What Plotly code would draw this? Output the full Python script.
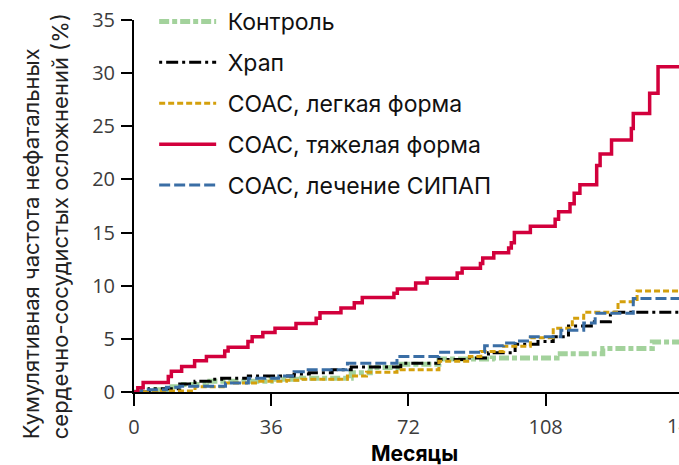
import plotly.graph_objects as go

# Cumulative incidence of non-fatal cardiovascular events (%), by follow-up month
control_t = [0, 4, 10, 13, 19, 36, 44, 57, 62, 70, 80, 94, 111, 123, 136, 144]
control_y = [0, 0.2, 0.5, 0.7, 1.0, 1.2, 1.3, 1.8, 2.3, 2.6, 3.1, 3.2, 3.6, 4.1, 4.7, 4.7]

snore_t = [0, 4, 12, 16, 20, 23, 30, 42, 46, 52, 57, 70, 80, 88, 93, 100, 106, 110, 114, 120, 125, 144]
snore_y = [0, 0.3, 0.75, 1.0, 1.2, 1.3, 1.5, 1.7, 1.8, 2.1, 2.35, 2.7, 3.05, 3.2, 3.7, 4.5, 4.75, 5.2, 6.2, 6.6, 7.5, 7.5]

mild_t = [0, 6, 16, 24, 33, 40, 44, 56, 61, 69, 80, 88, 91, 97, 104, 110, 115, 118, 127, 132, 144]
mild_y = [0, 0.1, 0.5, 0.85, 1.0, 1.1, 1.2, 1.5, 1.85, 2.1, 2.9, 3.35, 3.8, 4.3, 5.1, 6.0, 6.95, 7.5, 8.5, 9.5, 9.5]

severe_t = [0, 1.0, 2.4, 9.0, 9.8, 12.5, 15.9, 19.0, 23.8, 24.7, 29.9, 31.0, 33.8, 37.0, 42.5,
            47.8, 48.8, 54.3, 57.8, 59.9, 68.2, 69.1, 73.9, 76.9, 84.8, 86.1, 90.9, 91.5,
            94.4, 98.3, 99.0, 99.8, 104.0, 110.5, 111.4, 114.4, 115.5, 117.0, 121.4, 122.3,
            125.3, 130.5, 131.0, 135.3, 137.5, 144]
severe_y = [0, 0.4, 0.9, 1.45, 1.95, 2.4, 2.95, 3.35, 3.85, 4.2, 4.75, 5.2, 5.6, 6.0, 6.45,
            6.95, 7.45, 7.9, 8.4, 8.9, 9.3, 9.7, 10.25, 10.7, 11.2, 11.65, 12.1, 12.6,
            13.1, 13.55, 14.05, 15.0, 15.6, 16.25, 16.95, 17.7, 18.7, 19.5, 21.3, 22.4,
            23.7, 24.8, 26.2, 28.1, 30.6, 30.6]

cpap_t = [0, 2, 8.5, 12, 24, 30, 38, 42, 45, 56, 69, 80, 92, 97, 100, 104, 112, 118, 121, 131, 144]
cpap_y = [0, 0.2, 0.45, 0.55, 0.85, 1.3, 1.5, 1.9, 2.1, 2.7, 3.35, 3.75, 4.35, 4.6, 4.8, 5.2, 5.8, 6.5, 7.4, 8.8, 8.8]

x_ticks = [0, 36, 72, 108]
y_ticks = [0, 5, 10, 15, 20, 25, 30, 35]

series = [
    # name, t, y, color, width, dash, legend rank
    ("Контроль", control_t, control_y, "#a3d29c", 5, "10px,3px,5px,3px", 1),
    ("Храп", snore_t, snore_y, "#000000", 3, "3px,4px,12px,4px", 2),
    ("СОАС, легкая форма", mild_t, mild_y, "#d4a00c", 3, "6px,3px", 3),
    ("СОАС, лечение СИПАП", cpap_t, cpap_y, "#3a6ea5", 3, "11px,4px", 5),
    ("СОАС, тяжелая форма", severe_t, severe_y, "#d2003c", 3.5, "solid", 4),
]

fig = go.Figure()
for name, t, y, color, width, dash, rank in series:
    fig.add_trace(go.Scatter(
        x=t, y=y, name="\u00a0" + name, mode="lines",
        line=dict(color=color, width=width, dash=dash, shape="hv"),
        legendgroup=name, legendrank=rank,
    ))

tick_font = dict(family="Open Sans", size=20, color="#3c3c3c")
text_family = "Inter"

fig.update_layout(
    width=679, height=465,
    margin=dict(l=134, r=0, t=19, b=73),
    paper_bgcolor="white", plot_bgcolor="white",
    showlegend=True,
    legend=dict(
        x=0.037, y=1.055, xanchor="left", yanchor="top",
        font=dict(family=text_family, size=23, color="#111111"),
        bgcolor="rgba(0,0,0,0)", itemwidth=57,
        traceorder="grouped", tracegroupgap=8,
    ),
    xaxis=dict(
        range=[0, 143], tickmode="array", tickvals=x_ticks,
        ticks="outside", ticklen=12, tickwidth=2, tickcolor="black",
        showline=True, linecolor="black", linewidth=2,
        showgrid=False, zeroline=False, tickfont=tick_font,
        ticklabelstandoff=4,
    ),
    yaxis=dict(
        range=[0, 35], tickmode="array", tickvals=y_ticks,
        ticks="outside", ticklen=11, tickwidth=2, tickcolor="black",
        showline=True, linecolor="black", linewidth=2,
        showgrid=False, zeroline=False, tickfont=tick_font,
        ticklabelstandoff=2,
    ),
)

# x-axis title
fig.add_annotation(
    text="<b>Месяцы</b>", xref="paper", yref="paper", x=0.514, y=0,
    xanchor="center", yanchor="middle", yshift=-61, showarrow=False,
    font=dict(family=text_family, size=21, color="black"),
)

# y-axis title on two lines, both starting from the bottom
fig.add_annotation(
    text="Кумулятивная частота нефатальных<br>сердечно-сосудистых осложнений (%)",
    xref="paper", yref="paper", x=-0.163, y=0.446, align="left",
    xanchor="center", yanchor="middle", textangle=-90, showarrow=False,
    font=dict(family=text_family, size=22, color="#222222"),
)

# 144-month tick label at the right edge of the axis
fig.add_annotation(
    text="144", xref="paper", yref="paper", x=1.011, y=0,
    xanchor="center", yanchor="middle", yshift=-33, showarrow=False,
    font=tick_font,
)

fig.write_html("out.html")
